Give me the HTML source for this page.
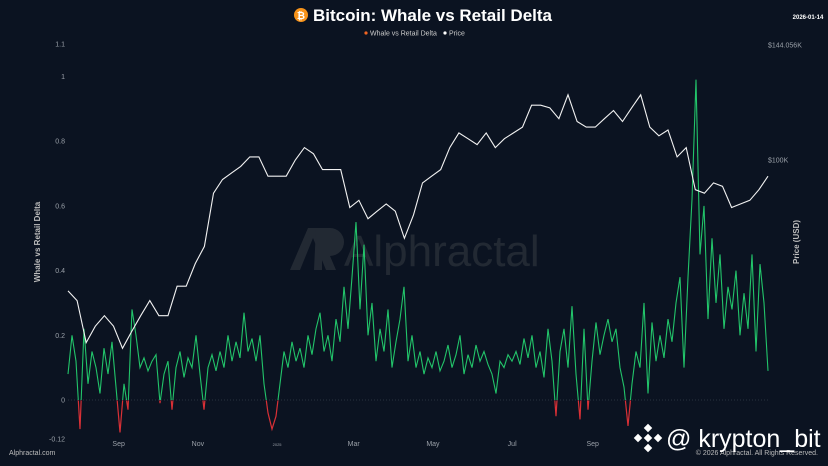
<!DOCTYPE html>
<html><head><meta charset="utf-8"><style>
html,body{margin:0;padding:0;background:#0b1321;}
svg{display:block;font-family:"Liberation Sans",sans-serif;}
</style></head><body>
<svg id="chart" width="828" height="466" viewBox="0 0 828 466">
<rect width="828" height="466" fill="#0b1321"/>
<defs>
<clipPath id="above"><rect x="0" y="0" width="828" height="400"/></clipPath>
<clipPath id="below"><rect x="0" y="400.5" width="828" height="66"/></clipPath>
</defs>
<g opacity="0.9">
<path d="M290 270 L308 228 L318 228 L336 270 L326 270 L313 238 L300 270 Z" fill="#252c36"/>
<path d="M316 228 h14 a14 14 0 0 1 0 28 h-8 v14 h-8 Z" fill="#252c36"/>
<text x="344" y="266" font-size="44" fill="#252c36">Alphractal</text>
</g>
<g>
<circle cx="301" cy="15" r="7" fill="#f7931a"/>
<text x="301" y="19" font-size="10" font-weight="bold" fill="#fff" text-anchor="middle">₿</text>
<text x="313" y="21" font-size="17" font-weight="bold" fill="#fff">Bitcoin: Whale vs Retail Delta</text>
</g>
<text x="808" y="19" font-size="6" font-weight="bold" fill="#fff" text-anchor="middle">2026-01-14</text>
<g font-size="7" fill="#ccc">
<g><circle cx="366" cy="33" r="1.6" fill="#f26522"/><text x="370" y="35.5">Whale vs Retail Delta</text></g>
<g><circle cx="445" cy="33" r="1.6" fill="#fff"/><text x="449" y="35.5">Price</text></g>
</g>
<g id="yaxis" font-size="7" fill="#9aa0a8" text-anchor="end"></g>
<g id="xaxis" font-size="7" fill="#9aa0a8" text-anchor="middle"></g>
<text transform="translate(40,242) rotate(-90)" font-size="8" font-weight="bold" fill="#bbb" text-anchor="middle">Whale vs Retail Delta</text>
<text transform="translate(799,242) rotate(-90)" font-size="8" font-weight="bold" fill="#bbb" text-anchor="middle">Price (USD)</text>
<g id="raxis" font-size="7" fill="#9aa0a8"></g>
<line x1="68" x2="768" y1="400" y2="400" stroke="#2a3340" stroke-width="1" stroke-dasharray="1,2"/>
<g id="series"></g>
<text x="9" y="455" font-size="7" fill="#bbb">Alphractal.com</text>
<text x="818" y="455" font-size="7" fill="#bbb" text-anchor="end">© 2026 Alphractal. All Rights Reserved.</text>
<g>
<g fill="#fff" transform="translate(648,438)">
<rect x="-3" y="-13" width="6" height="6" transform="rotate(45 0 -10)"/>
<rect x="-13" y="-3" width="6" height="6" transform="rotate(45 -10 0)"/>
<rect x="7" y="-3" width="6" height="6" transform="rotate(45 10 0)"/>
<rect x="-3" y="7" width="6" height="6" transform="rotate(45 0 10)"/>
<rect x="-3" y="-3" width="6" height="6" transform="rotate(45 0 0)"/>
</g>
<text x="666" y="447" font-size="25" fill="#fff">@ krypton_bit</text>
</g>
</svg>
<script>
const deltaValues=[0.08,0.2,0.12,-0.09,0.22,0.05,0.15,0.1,0.02,0.16,0.08,0.18,0.04,-0.1,0.05,-0.03,0.28,0.2,0.1,0.13,0.09,0.12,0.14,-0.01,0.08,0.12,-0.03,0.1,0.15,0.07,0.13,0.1,0.2,0.08,-0.03,0.1,0.14,0.09,0.15,0.1,0.2,0.12,0.18,0.13,0.27,0.15,0.19,0.12,0.2,0.05,-0.04,-0.09,-0.05,0.05,0.15,0.1,0.18,0.12,0.16,0.1,0.2,0.14,0.22,0.27,0.15,0.2,0.12,0.25,0.18,0.35,0.22,0.38,0.55,0.28,0.48,0.2,0.3,0.12,0.22,0.15,0.28,0.1,0.18,0.25,0.35,0.12,0.2,0.1,0.15,0.08,0.13,0.1,0.15,0.09,0.12,0.17,0.1,0.14,0.2,0.08,0.14,0.1,0.17,0.12,0.15,0.11,0.08,0.02,0.12,0.1,0.14,0.12,0.15,0.11,0.19,0.13,0.2,0.1,0.15,0.07,0.22,0.12,-0.05,0.15,0.22,0.1,0.29,0.08,-0.06,0.22,-0.03,0.12,0.24,0.14,0.2,0.25,0.18,0.22,0.1,0.04,-0.08,0.05,0.15,0.1,0.3,0.02,0.24,0.12,0.2,0.13,0.25,0.18,0.3,0.38,0.1,0.38,0.62,0.99,0.45,0.6,0.25,0.5,0.3,0.45,0.22,0.35,0.28,0.4,0.2,0.33,0.22,0.45,0.15,0.42,0.3,0.09];
const priceK=[66,64,56,59,61,59,55,58,61,64,61,61,67,67,72,76,90,94,96,98,101,101,95,95,95,100,104,102,97,97,97,86,88,83,85,87,85,78,84,93,95,97,104,109,107,105,109,104,107,109,111,119,119,118,114,123,113,111,111,114,117,113,118,123,111,108,110,101,104,91,90,93,92,86,87,88,91,95];
const yTicks=[1.1,1,0.8,0.6,0.4,0.2,0,-0.12];
const yTickLabels=["1.1","1","0.8","0.6","0.4","0.2","0","-0.12"];
const xTickDays=[39,100,161,220,281,342,404];
const xTickLabels=["Sep","Nov","2025","Mar","May","Jul","Sep"];
const rightTicks=[144.056,100];
const rightTickLabels=["$144.056K","$100K"];
const totalDays=539;
const NS="http://www.w3.org/2000/svg";
function xScale(d){return 68+d*700/totalDays;}
function yScale(v){return 400-v*323.5;}
function pScale(p){return 160-315*Math.log(p/100);}
function el(tag,attrs,parent){const e=document.createElementNS(NS,tag);for(const k in attrs)e.setAttribute(k,attrs[k]);parent.appendChild(e);return e;}
const ya=document.getElementById('yaxis');
yTicks.forEach((v,i)=>{const t=el('text',{x:65,y:yScale(v)+2.5},ya);t.textContent=yTickLabels[i];

});
const xa=document.getElementById('xaxis');
xTickDays.forEach((d,i)=>{const t=el('text',{x:xScale(d),y:446,'font-size':i==2?4:7},xa);t.textContent=xTickLabels[i];

});
const ra=document.getElementById('raxis');
rightTicks.forEach((p,i)=>{const t=el('text',{x:768,y:pScale(p)+2.5},ra);t.textContent=rightTickLabels[i];

});
const s=document.getElementById('series');
const dStep=totalDays/(deltaValues.length-1);
const dpts=deltaValues.map((v,i)=>xScale(i*dStep).toFixed(1)+','+yScale(v).toFixed(1)).join(' ');
const g1=el('polyline',{points:dpts,fill:'none',stroke:'#22c46a','stroke-width':1.1,'clip-path':'url(#above)'},s);


const g2=el('polyline',{points:dpts,fill:'none',stroke:'#d93036','stroke-width':1.2,'clip-path':'url(#below)'},s);


const ppts=priceK.map((p,i)=>xScale(i*7).toFixed(1)+','+pScale(p).toFixed(1)).join(' ');
const pl=el('polyline',{points:ppts,fill:'none',stroke:'#f2f2f2','stroke-width':1.1},s);


</script>
</body></html>
